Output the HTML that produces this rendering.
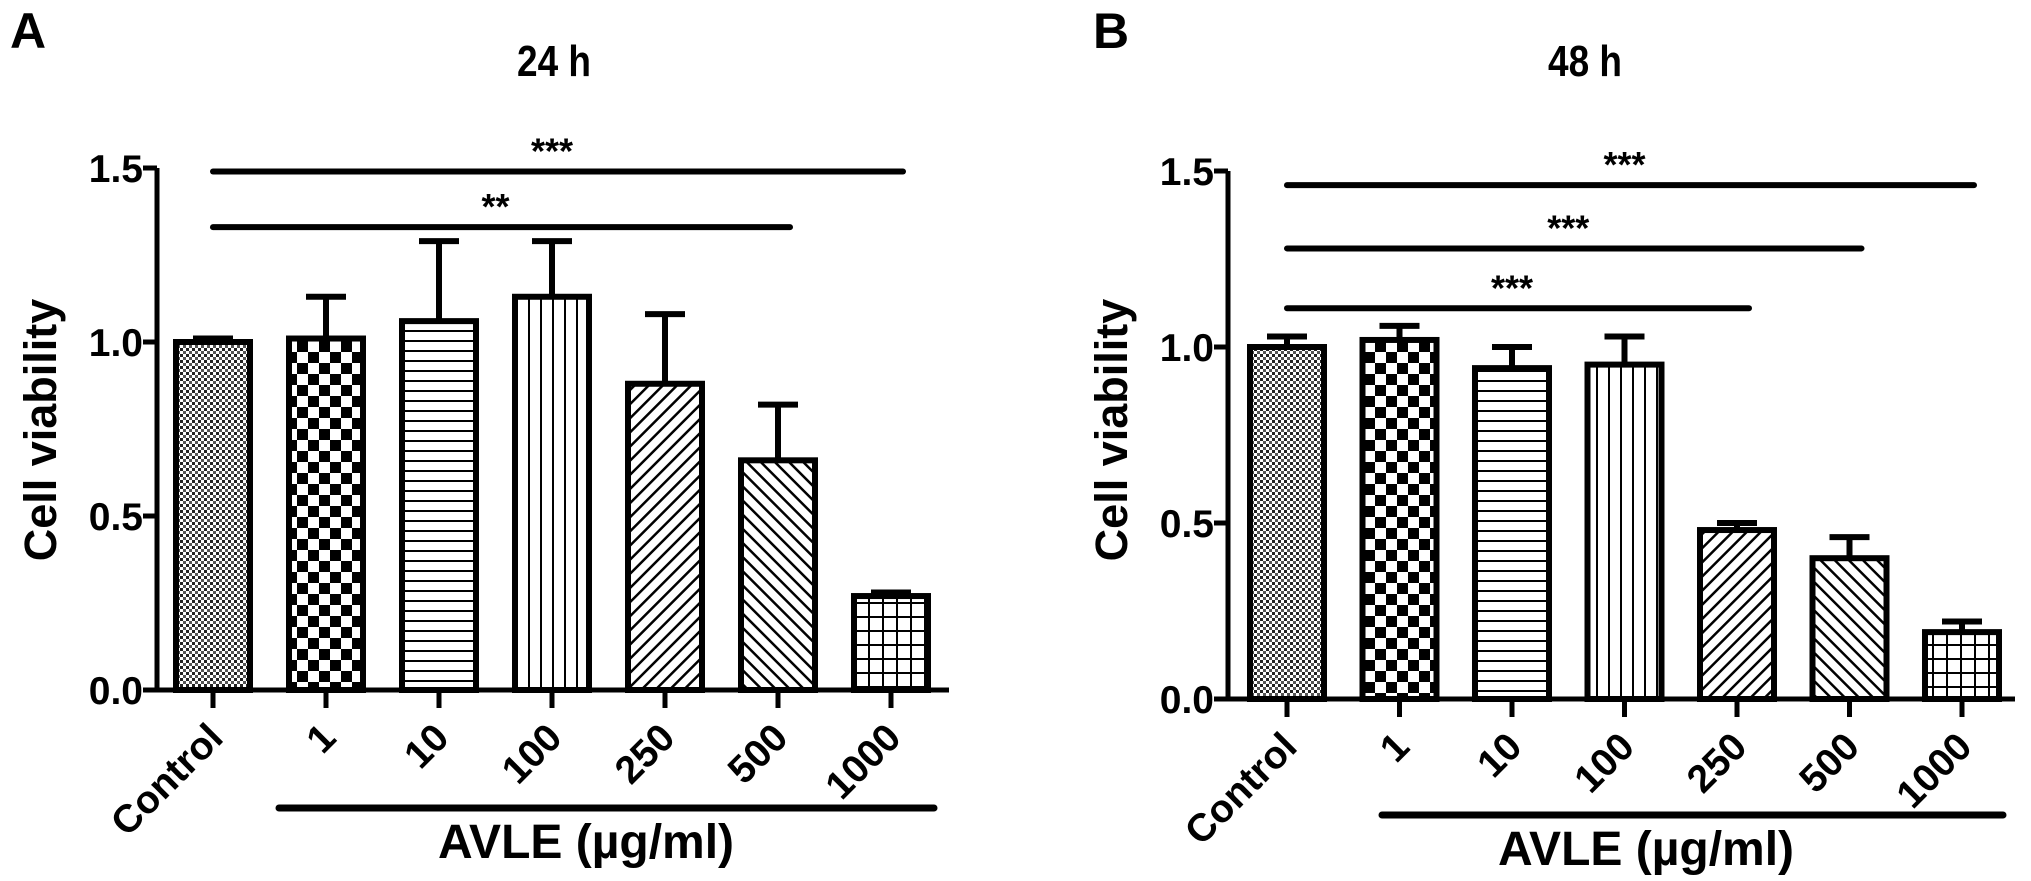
<!DOCTYPE html>
<html><head><meta charset="utf-8"><style>
html,body{margin:0;padding:0;background:#fff;}
svg{display:block;font-family:"Liberation Sans",Arial,sans-serif;font-weight:bold;}
</style></head><body>
<svg id="fig" width="2031" height="881" viewBox="0 0 2031 881" xmlns="http://www.w3.org/2000/svg">
<defs>
<pattern id="p0" width="6" height="6" patternUnits="userSpaceOnUse"><rect width="6" height="6" fill="#fff"/><rect width="3" height="3" fill="#222"/><rect x="3" y="3" width="3" height="3" fill="#555"/></pattern>
<pattern id="p1" width="22" height="22" patternUnits="userSpaceOnUse"><rect width="22" height="22" fill="#fff"/><rect width="11" height="11" fill="#000"/><rect x="11" y="11" width="11" height="11" fill="#000"/></pattern>
<pattern id="p2" width="10" height="10" patternUnits="userSpaceOnUse"><rect width="10" height="10" fill="#fff"/><rect y="0" width="10" height="2" fill="#000"/></pattern>
<pattern id="p3" width="12" height="12" patternUnits="userSpaceOnUse"><rect width="12" height="12" fill="#fff"/><rect x="0" width="2" height="12" fill="#000"/></pattern>
<pattern id="p4" width="10" height="10" patternUnits="userSpaceOnUse" patternTransform="rotate(45)"><rect width="10" height="10" fill="#fff"/><rect width="2.5" height="10" fill="#000"/></pattern>
<pattern id="p5" width="10" height="10" patternUnits="userSpaceOnUse" patternTransform="rotate(-45)"><rect width="10" height="10" fill="#fff"/><rect width="2.5" height="10" fill="#000"/></pattern>
<pattern id="p6" width="14" height="14" patternUnits="userSpaceOnUse"><rect width="14" height="14" fill="#fff"/><rect width="2" height="14" fill="#000"/><rect width="14" height="2" fill="#000"/></pattern>
</defs>
</svg>
<script>
const categories = ["Control","1","10","100","250","500","1000"];
const valuesA = [1.00,1.01,1.06,1.13,0.88,0.66,0.27];
const errTopA = [1.01,1.13,1.29,1.29,1.08,0.82,0.28];
const valuesB = [1.00,1.02,0.94,0.95,0.48,0.40,0.19];
const errTopB = [1.03,1.06,1.00,1.03,0.50,0.46,0.22];
const yTicks = ["0.0","0.5","1.0","1.5"];
const sigA = [{to:6,y:1.49,label:"***"},{to:5,y:1.33,label:"**"}];
const sigB = [{to:6,y:1.46,label:"***"},{to:5,y:1.28,label:"***"},{to:4,y:1.11,label:"***"}];
const NS="http://www.w3.org/2000/svg";
const svg=document.getElementById('fig');
function mk(tag,attrs,parent){const e=document.createElementNS(NS,tag);for(const k in attrs)e.setAttribute(k,attrs[k]);(parent||svg).appendChild(e);return e;}
function panel(o){
  const g=mk('g',{});
  
  
  const y=v=>o.y0-(o.y0-o.y15)*v/1.5;
  const x=i=>o.x0+i*o.step;
  const L=mk('text',{x:o.lx,y:48,'font-size':50},g);L.textContent=o.letter;
  
  
  const T=mk('text',{x:o.tx,y:76,'font-size':44,'text-anchor':'middle','textLength':74,'lengthAdjust':'spacingAndGlyphs'},g);T.textContent=o.title;
  
  
  o.vals.forEach((v,i)=>{
    const cx=x(i),bw=74;
    const e=mk('line',{x1:cx,x2:cx,y1:y(v),y2:y(o.err[i]),stroke:'#000','stroke-width':6},g);
    
    
    const c=mk('line',{x1:cx-20,x2:cx+20,y1:y(o.err[i]),y2:y(o.err[i]),stroke:'#000','stroke-width':6},g);
    
    
    const r=mk('rect',{x:cx-bw/2,y:y(v),width:bw,height:y(0)-y(v),fill:'url(#p'+i+')',stroke:'#000','stroke-width':6},g);
    
    
    const t=mk('line',{x1:cx,x2:cx,y1:o.y0,y2:o.y0+18,stroke:'#000','stroke-width':5},g);
    
    
    const lb=mk('text',{x:cx+12,y:o.y0+50,'font-size':39,'text-anchor':'end',transform:`rotate(-45 ${cx+12} ${o.y0+50})`},g);
    lb.textContent=categories[i];
    
    
  });
  const ya=mk('line',{x1:o.ax,x2:o.ax,y1:y(1.5),y2:o.y0+2,stroke:'#000','stroke-width':5},g);
  
  
  const xa=mk('line',{x1:o.ax,x2:o.xend,y1:o.y0,y2:o.y0,stroke:'#000','stroke-width':5},g);
  
  
  yTicks.forEach(s=>{
    const v=parseFloat(s);
    const tk=mk('line',{x1:o.ax-14,x2:o.ax,y1:y(v),y2:y(v),stroke:'#000','stroke-width':5},g);
    
    
    const tl=mk('text',{x:o.ax-14,y:y(v)+14,'font-size':39,'text-anchor':'end'},g);tl.textContent=s;
    
    
  });
  const yt=mk('text',{x:o.ytx,y:430,'font-size':45,'text-anchor':'middle',transform:`rotate(-90 ${o.ytx} 430)`},g);
  yt.textContent='Cell viability';
  
  
  o.sig.forEach(s=>{
    const ln=mk('line',{x1:x(0),x2:x(s.to)+12,y1:y(s.y),y2:y(s.y),stroke:'#000','stroke-width':6,'stroke-linecap':'round'},g);
    
    
    const st=mk('text',{x:(x(0)+x(s.to))/2,y:y(s.y)-8,'font-size':36,'text-anchor':'middle'},g);
    st.textContent=s.label;
    
    
  });
  const al=mk('line',{x1:o.avx1,x2:o.avx2,y1:o.avy,y2:o.avy,stroke:'#000','stroke-width':7,'stroke-linecap':'round'},g);
  
  
  const at=mk('text',{x:o.avtx,y:o.avy+50,'font-size':48,'text-anchor':'middle'},g);
  at.textContent='AVLE (µg/ml)';
  
  
}
panel({letter:'A',lx:10,title:'24 h',tx:554,x0:213,step:113,y0:690,y15:168,ax:157,xend:949,vals:valuesA,err:errTopA,sig:sigA,ytx:56,avx1:279,avx2:934,avy:808,avtx:586});
panel({letter:'B',lx:1093,title:'48 h',tx:1585,x0:1287,step:112.5,y0:699,y15:171,ax:1228,xend:2015,vals:valuesB,err:errTopB,sig:sigB,ytx:1127,avx1:1382,avx2:2003,avy:815,avtx:1646});
</script>
</body></html>
